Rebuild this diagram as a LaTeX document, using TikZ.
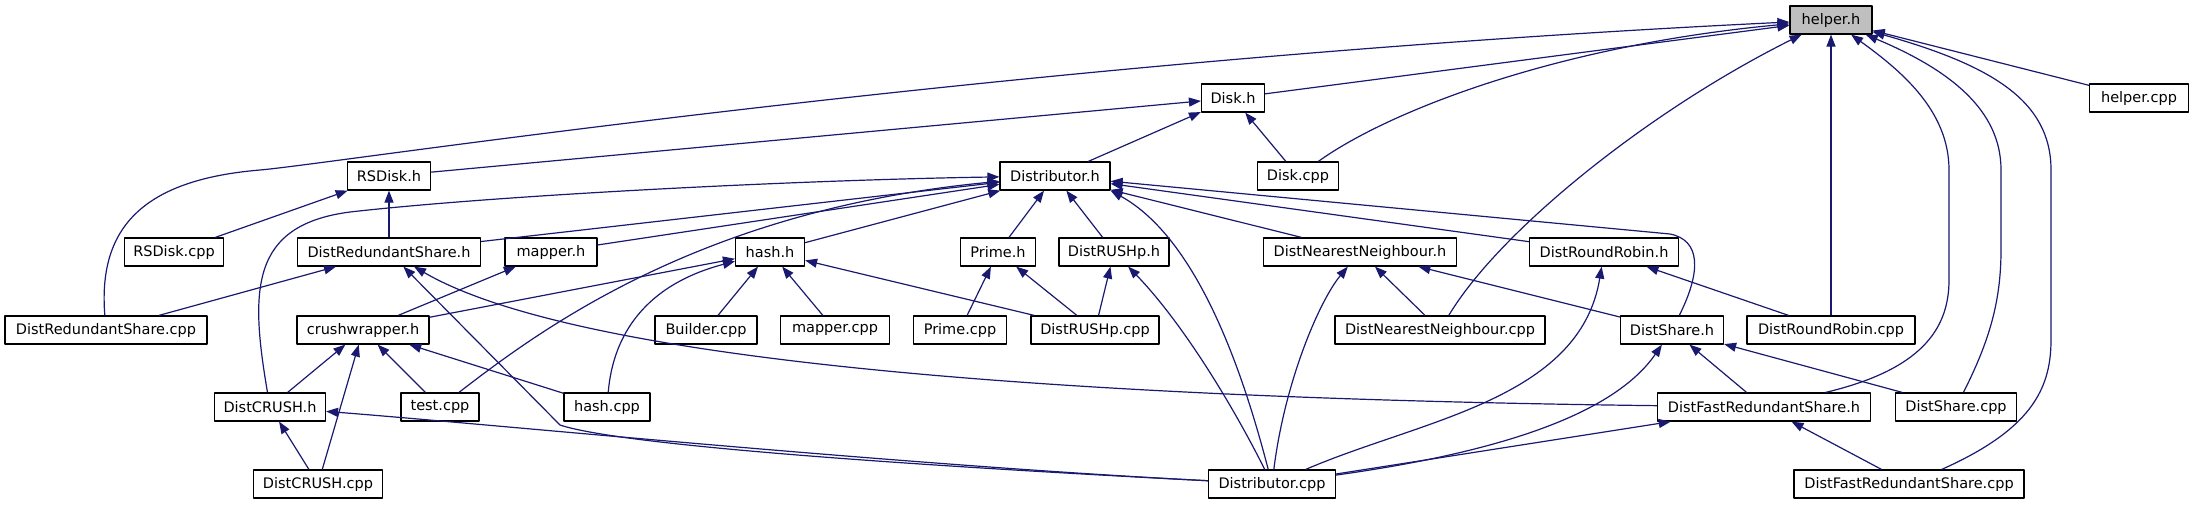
\documentclass[tikz,border=0pt]{standalone}
\usepackage{fontspec}
\setmainfont{DejaVu Sans}
\usetikzlibrary{arrows.meta}
\definecolor{edgeblue}{HTML}{191970}
\definecolor{focusgrey}{HTML}{BFBFBF}

\begin{document}
\begin{tikzpicture}[
  x={(1pt,0pt)},
  y={(0pt,-1pt)},
  line join=round,
  file/.style={draw=black,fill=white,line width=1.2pt,minimum height=28pt,
    inner sep=0pt,font=\fontsize{14.5}{17}\selectfont},
  focus/.style={file,fill=focusgrey},
  dep/.style={draw=edgeblue,line width=1.2pt,-{Triangle[length=12pt,width=9pt]}}
]
  \useasboundingbox (0,0) rectangle (2193,504);

  % Header files and sources, one row per rank.
  \node[focus,minimum width=82pt]  (helperH)        at (1831,20)  {helper.h};
  \node[file,minimum width=99pt]   (helperCpp)      at (2139,98)  {helper.cpp};
  \node[file,minimum width=63pt]   (diskH)          at (1233,98)  {Disk.h};
  \node[file,minimum width=81pt]   (diskCpp)        at (1298,176) {Disk.cpp};
  \node[file,minimum width=110pt]  (distributorH)   at (1055,176) {Distributor.h};
  \node[file,minimum width=83pt]   (rsdiskH)        at (389,176)  {RSDisk.h};

  \node[file,minimum width=99pt]   (rsdiskCpp)      at (174,252)  {RSDisk.cpp};
  \node[file,minimum width=183pt]  (drsH)           at (389,252)  {DistRedundantShare.h};
  \node[file,minimum width=92pt]   (mapperH)        at (551,252)  {mapper.h};
  \node[file,minimum width=69pt]   (hashH)          at (770,252)  {hash.h};
  \node[file,minimum width=75pt]   (primeH)         at (998,252)  {Prime.h};
  \node[file,minimum width=110pt]  (rushpH)         at (1114,252) {DistRUSHp.h};
  \node[file,minimum width=193pt]  (dnnH)           at (1360,252) {DistNearestNeighbour.h};
  \node[file,minimum width=149pt]  (drrH)           at (1604,252) {DistRoundRobin.h};

  \node[file,minimum width=202pt]  (drsCpp)         at (106,330)  {DistRedundantShare.cpp};
  \node[file,minimum width=132pt]  (crushwrapperH)  at (363,330)  {crushwrapper.h};
  \node[file,minimum width=102pt]  (builderCpp)     at (706,330)  {Builder.cpp};
  \node[file,minimum width=109pt]  (mapperCpp)      at (835,330)  {mapper.cpp};
  \node[file,minimum width=93pt]   (primeCpp)       at (960,330)  {Prime.cpp};
  \node[file,minimum width=128pt]  (rushpCpp)       at (1095,330) {DistRUSHp.cpp};
  \node[file,minimum width=210pt]  (dnnCpp)         at (1440,330) {DistNearestNeighbour.cpp};
  \node[file,minimum width=103pt]  (dshareH)        at (1672,330) {DistShare.h};
  \node[file,minimum width=168pt]  (drrCpp)         at (1831,330) {DistRoundRobin.cpp};

  \node[file,minimum width=111pt]  (dcrushH)        at (270,407)  {DistCRUSH.h};
  \node[file,minimum width=78pt]   (testCpp)        at (440,407)  {test.cpp};
  \node[file,minimum width=86pt]   (hashCpp)        at (607,407)  {hash.cpp};
  \node[file,minimum width=213pt]  (dfrsH)          at (1764,407) {DistFastRedundantShare.h};
  \node[file,minimum width=121pt]  (dshareCpp)      at (1956,407) {DistShare.cpp};

  \node[file,minimum width=129pt]  (dcrushCpp)      at (318,484)  {DistCRUSH.cpp};
  \node[file,minimum width=127pt]  (distributorCpp) at (1272,484) {Distributor.cpp};
  \node[file,minimum width=230pt]  (dfrsCpp)        at (1909,484) {DistFastRedundantShare.cpp};

  % Straight include edges, includer/included.
  \foreach \a/\b in {diskH/helperH,helperCpp/helperH,drrCpp/helperH,
                     rsdiskH/diskH,distributorH/diskH,diskCpp/diskH,
                     rsdiskCpp/rsdiskH,drsH/rsdiskH,drsCpp/drsH,
                     drsH/distributorH,mapperH/distributorH,hashH/distributorH,
                     primeH/distributorH,rushpH/distributorH,dnnH/distributorH,
                     drrH/distributorH,
                     crushwrapperH/mapperH,crushwrapperH/hashH,builderCpp/hashH,
                     mapperCpp/hashH,rushpCpp/hashH,
                     primeCpp/primeH,rushpCpp/primeH,rushpCpp/rushpH,
                     dnnCpp/dnnH,dshareH/dnnH,drrCpp/drrH,
                     dfrsH/dshareH,dshareCpp/dshareH,dfrsCpp/dfrsH,
                     dcrushH/crushwrapperH,testCpp/crushwrapperH,
                     hashCpp/crushwrapperH,dcrushCpp/crushwrapperH,
                     dcrushCpp/dcrushH,distributorCpp/dfrsH} {
    \draw[dep] (\a) -- (\b);
  }

  % Curved edges into helper.h.
  \draw[dep] (drsCpp) .. controls (98,230) and (140,180) .. (260,170)
    .. controls (340,163) and (1000,60) .. (helperH);
  \draw[dep] (diskCpp) .. controls (1390,110) and (1560,45) .. (helperH);
  \draw[dep] (dnnCpp) .. controls (1500,230) and (1650,110) .. (helperH);
  \draw[dep] (dfrsH) .. controls (1920,370) and (1949,330) .. (1949,280)
    -- (1949,170) .. controls (1949,110) and (1900,70) .. (helperH);
  \draw[dep] (dshareCpp) .. controls (1990,340) and (2001,300) .. (2001,250)
    -- (2001,170) .. controls (2001,110) and (1950,70) .. (helperH);
  \draw[dep] (dfrsCpp) .. controls (2030,430) and (2051,390) .. (2051,340)
    -- (2051,170) .. controls (2051,100) and (1990,65) .. (helperH);

  % Curved edges into Distributor.h.
  \draw[dep] (dcrushH) .. controls (250,290) and (250,225) .. (350,212)
    .. controls (500,195) and (800,180) .. (distributorH);
  \draw[dep] (testCpp) .. controls (540,330) and (700,210) .. (distributorH);
  \draw[dep] (distributorCpp) .. controls (1245,380) and (1200,240) .. (distributorH.south east);
  \draw[dep] (dshareH) .. controls (1702,270) and (1700,240) .. (1670,234) -- (distributorH);

  % Remaining curved edges.
  \draw[dep] (hashCpp) .. controls (613,335) and (645,285) .. (hashH);
  \draw[dep] (dfrsH) .. controls (1200,400) and (600,375) .. (drsH);
  \draw[dep] (distributorCpp) .. controls (900,465) and (620,445) .. (560,425) -- (drsH);
  \draw[dep] (distributorCpp) .. controls (900,465) and (500,425) .. (dcrushH);
  \draw[dep] (distributorCpp) .. controls (1230,400) and (1180,320) .. (rushpH);
  \draw[dep] (distributorCpp) .. controls (1285,380) and (1320,300) .. (dnnH);
  \draw[dep] (distributorCpp) .. controls (1420,420) and (1580,400) .. (drrH);
  \draw[dep] (distributorCpp) .. controls (1480,455) and (1610,420) .. (dshareH);
\end{tikzpicture}
\end{document}
